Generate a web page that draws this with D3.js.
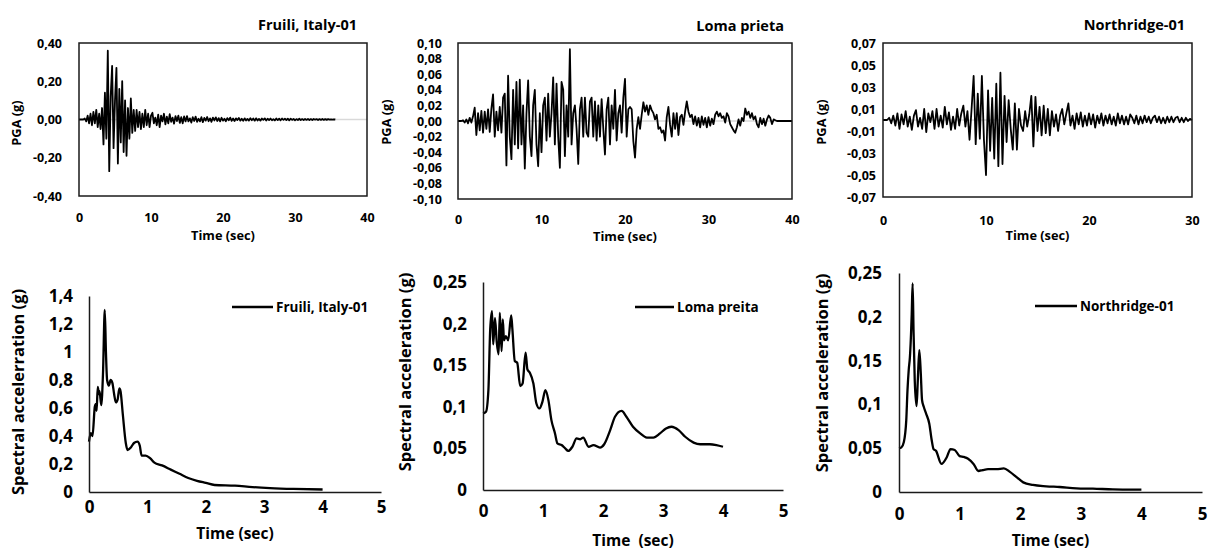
<!DOCTYPE html>
<html>
<head>
<meta charset="utf-8">
<script src="https://cdn.jsdelivr.net/npm/d3@7"></script>
<style>
  body { margin: 0; background: #fff; }
  svg text { font-family: "Open Sans", Lato, sans-serif; font-weight: 700; fill: #000; }
</style>
</head>
<body>
<svg id="chart" width="1216" height="552"></svg>
<script>
// ---- datos: registros de aceleracion (g), paso dt = 0.2 s ----
const dtFruili = 0.2;
const fruiliAcc = [
  0, 0, 0, 0, 0.005, -0.01, 0.02, -0.02, 0.03, -0.03,
  0.04, -0.02, 0.05, -0.04, 0.03, -0.05, 0.06, -0.13, 0.14, -0.10,
  0.36, -0.27, 0.12, 0.28, -0.15, 0.10, 0.27, -0.23, 0.16, -0.12,
  0.20, -0.17, 0.10, -0.19, 0.06, -0.10, 0.11, -0.07, 0.05, -0.06,
  0.05, -0.04, 0.04, -0.05, 0.03, -0.04, 0.05, -0.03, 0.03, -0.04,
  0.02,
  0.035, -0.02, 0.01, -0.03, 0.025, -0.04, 0.02, -0.01, 0.03, -0.025,
  0.015, -0.02, 0.028, -0.012, 0.01, -0.022, 0.018, -0.008, 0.02, -0.018,
  0.012, -0.02, 0.016, -0.01,
  0.018, -0.01, 0.006, -0.016, 0.012, -0.008, 0.015, -0.012, 0.004, -0.01,
  0.012, -0.014, 0.008, -0.006, 0.013, -0.009, 0.006, -0.012, 0.01, -0.005,
  0.011, -0.008, 0.007, -0.01,
  0.009, -0.006, 0.004, -0.009, 0.007, -0.004, 0.01, -0.007, 0.005, -0.008,
  0.006, -0.003, 0.008, -0.006, 0.004, -0.007, 0.006, -0.005, 0.003, -0.006,
  0.007, -0.004, 0.005, -0.006,
  0.006, -0.005, 0.003, -0.006, 0.005, -0.002, 0.006, -0.005, 0.004, -0.003,
  0.005, -0.004, 0.002, -0.005, 0.005, -0.003, 0.004, -0.004, 0.005, -0.002,
  0.004, -0.003, 0.004, -0.004,
  0.004, -0.002, 0.003, -0.004, 0.002, -0.003, 0.004, -0.003, 0.002, -0.003,
  0.003, -0.002, 0.003, -0.003, 0.002, -0.003, 0.003, -0.001, 0.002, -0.003,
  0.002, -0.002, 0.003, -0.002, 0.002, -0.002, 0.002, -0.001, 0.001, -0.001,
  0.001, 0
];

const dtLoma = 0.2;
const lomaAcc = [
  0, 0, 0, 0.001, -0.002, 0.002, -0.003, 0.004, -0.002, 0.006,
  0.017, -0.018, 0.01, -0.012, 0.013, -0.015, 0.012, -0.01, 0.015, -0.014,
  0.016, 0.034, -0.02, 0.012, -0.012, 0.018, -0.015, 0.03, 0.035, -0.057,
  0.058, -0.02, -0.049, 0.04, -0.03, 0.05, -0.035, 0.053, -0.03, 0.02,
  -0.061, 0.01, 0.052, -0.02, -0.045, 0.02, 0.04, -0.03, -0.058, 0.01,
  -0.04, 0.02, 0.03, -0.025, 0.035, -0.02, 0.01, 0.056, -0.03, 0.048,
  -0.02, -0.06, 0.05, 0.04, -0.045, 0.02, -0.02, 0.092, -0.03, 0.01,
  0.02, -0.01, -0.055, 0.015, 0.03, -0.02, 0.03, -0.015, -0.02, 0.025,
  0.03, -0.02, 0.025, -0.025, 0.02, -0.02, 0.028, -0.01, -0.043, 0.015,
  0.03, -0.03, 0.02, -0.01, 0.04, -0.025, 0.01, 0.02, -0.015, 0.03,
  0.054, -0.02, 0.015, 0.018, 0.015, -0.026, -0.047, -0.01, 0.005, -0.01,
  0.008, 0.024, 0.012, 0.02, 0.008, 0.02, 0.014, 0.01, 0.002, 0.008,
  -0.01, -0.008, -0.015, -0.012, -0.025, 0.005, 0.018, -0.005, -0.02, 0.01,
  -0.01, 0.01, -0.018, 0.005, 0.008, -0.005, 0.012, 0.025, 0.012, 0.005,
  0.008, -0.004, 0.006, -0.006, 0.004, -0.008, 0.006, -0.005, 0.004, -0.008,
  0.005, -0.006, 0.003, -0.004, 0.008, 0.012, 0.006, 0.01, 0.004, 0.006,
  -0.002, 0.01, 0.006, -0.004, -0.008, -0.012, -0.015, -0.008, 0.002, -0.006,
  0.004, 0, 0.016, 0.008, 0.012, 0.004, 0.01, 0.002, 0.006, -0.004,
  -0.008, 0.004, -0.004, 0.003, -0.006, 0.002, 0.007, 0.004, -0.004, 0.002,
  0.001, 0, 0, 0, 0, 0, 0, 0, 0, 0,
  0
];

const dtNorth = 0.2;
const northAcc = [
  0, 0, 0, 0.002, -0.003, 0.004, -0.005, 0.006, -0.008, 0.005,
  -0.004, 0.008, -0.006, 0.003, -0.009, 0.004, 0.009, -0.006, 0.002, -0.008,
  0.01, -0.011, 0.006, -0.002, 0.008, -0.008, 0.01, -0.006, 0.004, -0.007,
  0.012, -0.004, 0.007, -0.009, 0.003, -0.008, 0.01, -0.005, 0.006, 0.013,
  -0.006, 0.008, -0.018, 0.01, 0.04, -0.022, 0.024, -0.017, 0.04, -0.018,
  -0.05, 0.027, -0.028, 0.02, -0.035, 0.033, -0.042, 0.043, -0.04, 0.022,
  -0.02, 0.018, -0.008, -0.027, 0.015, -0.027, 0.01, -0.005, -0.01, 0.008,
  -0.006, 0.005, 0.022, -0.024, 0.021, -0.01, 0.012, -0.014, 0.013, -0.012,
  0.01, -0.014, 0.008, -0.006, 0.005, -0.01, 0.004, 0.01, -0.004, 0.006,
  0.015, -0.005, 0.004, -0.008, 0.006, -0.004, 0.007, -0.006, 0.004, -0.005,
  0.006, -0.004, 0.005, -0.007, 0.004, -0.003, 0.006, -0.005, 0.004, -0.003,
  0.005, -0.004, 0.003, -0.005, 0.006, -0.003, 0.004, -0.004, 0.003, -0.004,
  0.005, 0.002, -0.003, 0.004, -0.004, 0.003, -0.003, 0.004, -0.002, 0.003,
  -0.003, 0.002, 0.004, -0.002, 0.003, -0.003, 0.002, -0.003, 0.003, -0.002,
  0.003, -0.002, 0.002, 0.003, -0.002, 0.002, -0.002, 0.002, -0.001, 0.001,
  0
];

// ---- datos: espectros de respuesta (periodo s, Sa g) ----
const fruiliSpT = [0, 0.03, 0.06, 0.1, 0.12, 0.13, 0.15, 0.17, 0.18, 0.21, 0.24, 0.27, 0.29, 0.31, 0.34, 0.37, 0.4, 0.43, 0.46, 0.49, 0.52, 0.54, 0.58, 0.63, 0.66, 0.72, 0.77, 0.83, 0.87, 0.9, 0.97, 1.05, 1.12, 1.25, 1.4, 1.55, 1.7, 1.85, 2.0, 2.15, 2.5, 2.8, 3.1, 3.5, 4.0];
const fruiliSpA = [0.36, 0.42, 0.40, 0.61, 0.63, 0.58, 0.75, 0.70, 0.72, 0.62, 0.85, 1.30, 1.00, 0.80, 0.76, 0.80, 0.78, 0.70, 0.64, 0.66, 0.74, 0.72, 0.55, 0.35, 0.30, 0.32, 0.35, 0.36, 0.33, 0.26, 0.26, 0.24, 0.21, 0.19, 0.16, 0.13, 0.10, 0.08, 0.065, 0.05, 0.045, 0.035, 0.028, 0.022, 0.018];

const lomaSpT = [0, 0.05, 0.09, 0.12, 0.15, 0.17, 0.2, 0.23, 0.26, 0.28, 0.31, 0.33, 0.35, 0.38, 0.42, 0.47, 0.49, 0.53, 0.57, 0.62, 0.66, 0.71, 0.74, 0.78, 0.84, 0.89, 0.94, 0.99, 1.04, 1.09, 1.14, 1.2, 1.24, 1.31, 1.37, 1.42, 1.49, 1.56, 1.62, 1.67, 1.76, 1.84, 1.95, 2.02, 2.12, 2.2, 2.31, 2.39, 2.5, 2.62, 2.73, 2.84, 2.95, 3.05, 3.14, 3.26, 3.37, 3.51, 3.62, 3.78, 3.89, 4.0];
const lomaSpA = [0.092, 0.094, 0.12, 0.193, 0.215, 0.175, 0.207, 0.177, 0.163, 0.213, 0.167, 0.205, 0.18, 0.185, 0.18, 0.21, 0.193, 0.155, 0.153, 0.125, 0.128, 0.165, 0.145, 0.141, 0.128, 0.104, 0.098, 0.106, 0.12, 0.108, 0.084, 0.068, 0.056, 0.054, 0.05, 0.047, 0.052, 0.062, 0.061, 0.063, 0.052, 0.054, 0.051, 0.055, 0.072, 0.088, 0.095, 0.088, 0.076, 0.068, 0.063, 0.063, 0.068, 0.074, 0.076, 0.072, 0.064, 0.057, 0.055, 0.055, 0.054, 0.052];

const northSpT = [0, 0.04, 0.08, 0.12, 0.14, 0.16, 0.18, 0.21, 0.225, 0.24, 0.26, 0.29, 0.31, 0.335, 0.36, 0.38, 0.41, 0.45, 0.5, 0.54, 0.57, 0.61, 0.7, 0.79, 0.85, 0.92, 1.0, 1.07, 1.14, 1.23, 1.31, 1.38, 1.47, 1.61, 1.73, 1.83, 1.94, 2.05, 2.21, 2.43, 2.65, 2.93, 3.2, 3.53, 3.81, 4.0];
const northSpA = [0.05, 0.051, 0.057, 0.082, 0.116, 0.139, 0.154, 0.203, 0.238, 0.184, 0.127, 0.098, 0.127, 0.162, 0.135, 0.105, 0.097, 0.089, 0.078, 0.059, 0.049, 0.047, 0.032, 0.04, 0.049, 0.048, 0.041, 0.04, 0.038, 0.032, 0.024, 0.025, 0.026, 0.026, 0.027, 0.023, 0.017, 0.011, 0.008, 0.0065, 0.0057, 0.0042, 0.0038, 0.003, 0.0027, 0.0027];

// ---- ticks ----
const ticksFruiliY = [-0.4, -0.2, 0, 0.2, 0.4];
const ticksLomaY = [-0.1, -0.08, -0.06, -0.04, -0.02, 0, 0.02, 0.04, 0.06, 0.08, 0.1];
const ticksNorthY = [-0.07, -0.05, -0.03, -0.01, 0.01, 0.03, 0.05, 0.07];
const ticksTime40 = [0, 10, 20, 30, 40];
const ticksTime30 = [0, 10, 20, 30];
const ticksSpX = [0, 1, 2, 3, 4, 5];
const ticksFruiliSp = [0, 0.2, 0.4, 0.6, 0.8, 1, 1.2, 1.4];
const ticksSmallSp = [0, 0.05, 0.1, 0.15, 0.2, 0.25];

// formato con coma decimal
const locale = d3.formatLocale({decimal: ",", thousands: ".", grouping: [3], currency: ["", ""], minus: "-"});
const fmt2 = locale.format(".2f");
const fmtG = locale.format("~g");

const svg = d3.select("#chart");

function timeHistory(o) {
    let x = d3.scaleLinear().domain(o.xDomain).range([o.x0, o.x1]);
    let y = d3.scaleLinear().domain(o.yDomain).range([o.y1, o.y0]);
    let g = svg.append("g");

    // eje cero gris
    g.append("line")
        .attr("x1", o.x0).attr("x2", o.x1)
        .attr("y1", y(0)).attr("y2", y(0))
        .attr("stroke", "#d9d9d9").attr("stroke-width", 1.5);

    g.append("path")
        .datum(o.acc)
        .attr("fill", "none")
        .attr("stroke", "#000")
        .attr("stroke-width", 1.8)
        .attr("stroke-linejoin", "round")
        .attr("d", d3.line().x(function(d, i) { return x(i * o.dt); }).y(function(d) { return y(d); }));

    g.append("rect")
        .attr("x", o.x0).attr("y", o.y0)
        .attr("width", o.x1 - o.x0).attr("height", o.y1 - o.y0)
        .attr("fill", "none").attr("stroke", "#1a1a1a").attr("stroke-width", 1.5);

    g.append("g")
        .attr("transform", "translate(" + o.x0 + ",0)")
        .call(d3.axisLeft(y).tickValues(o.yTicks).tickSize(0).tickPadding(o.yPad).tickFormat(fmt2))
        .call(function(a) { a.select(".domain").remove(); })
        .selectAll("text").style("font-size", "12.5px");

    g.append("g")
        .attr("transform", "translate(0," + o.y1 + ")")
        .call(d3.axisBottom(x).tickValues(o.xTicks).tickSize(0).tickPadding(o.xPad).tickFormat(d3.format("d")))
        .call(function(a) { a.select(".domain").remove(); })
        .selectAll("text").style("font-size", "12.5px");

    g.append("text")
        .attr("x", (o.x0 + o.x1) / 2).attr("y", o.xLabelY)
        .attr("text-anchor", "middle").style("font-size", "12.8px")
        .text("Time (sec)");

    g.append("text")
        .attr("transform", "translate(" + o.yLabelX + "," + o.yLabelC + ") rotate(-90)")
        .attr("text-anchor", "middle").attr("dy", "0.35em").style("font-size", "12.8px")
        .text("PGA (g)");

    g.append("text")
        .attr("x", o.titleX).attr("y", o.titleY)
        .attr("text-anchor", "end").style("font-size", "14.5px")
        .text(o.title);
}

function spectrum(o) {
    let x = d3.scaleLinear().domain([0, 5]).range([o.x0, o.x1]);
    let y = d3.scaleLinear().domain(o.yDomain).range([o.y1, o.y0]);
    let g = svg.append("g");

    g.append("path")
        .datum(d3.zip(o.T, o.A))
        .attr("fill", "none")
        .attr("stroke", "#000")
        .attr("stroke-width", 2.3)
        .attr("stroke-linejoin", "round")
        .attr("d", d3.line().curve(d3.curveMonotoneX)
            .x(function(d) { return x(d[0]); }).y(function(d) { return y(d[1]); }));

    g.append("g")
        .attr("transform", "translate(" + o.x0 + ",0)")
        .call(d3.axisLeft(y).tickValues(o.yTicks).tickSize(0).tickPadding(o.yPad).tickFormat(fmtG))
        .call(function(a) { a.select(".domain").attr("stroke", "#1a1a1a").attr("stroke-width", 1.5); })
        .selectAll("text").style("font-size", "17px");

    g.append("g")
        .attr("transform", "translate(0," + o.y1 + ")")
        .call(d3.axisBottom(x).tickValues(ticksSpX).tickSize(0).tickPadding(o.xPad).tickFormat(d3.format("d")))
        .call(function(a) { a.select(".domain").attr("stroke", "#1a1a1a").attr("stroke-width", 1.5); })
        .selectAll("text").style("font-size", "17px");

    g.append("text")
        .attr("x", (o.x0 + o.x1) / 2).attr("y", o.xLabelY)
        .attr("text-anchor", "middle").style("font-size", "15.5px")
        .attr("xml:space", "preserve")
        .text(o.xLabel);

    g.append("text")
        .attr("transform", "translate(" + o.yLabelX + "," + o.yLabelC + ") rotate(-90)")
        .attr("text-anchor", "middle").attr("dy", "0.35em").style("font-size", "16.5px")
        .text(o.yLabel);

    // leyenda
    g.append("line")
        .attr("x1", o.legX0).attr("x2", o.legX1)
        .attr("y1", o.legY).attr("y2", o.legY)
        .attr("stroke", "#000").attr("stroke-width", 2.3);
    g.append("text")
        .attr("x", o.legX1 + 3).attr("y", o.legY)
        .attr("dy", "0.35em").style("font-size", "13.5px")
        .text(o.name);
}

timeHistory({acc: fruiliAcc, dt: dtFruili, xDomain: [0, 40], yDomain: [-0.4, 0.4],
    x0: 79, x1: 367, y0: 43, y1: 196, yTicks: ticksFruiliY, xTicks: ticksTime40,
    yPad: 17, xPad: 17, xLabelY: 240, yLabelX: 17, yLabelC: 123,
    title: "Fruili, Italy-01", titleX: 357, titleY: 30});
timeHistory({acc: lomaAcc, dt: dtLoma, xDomain: [0, 40], yDomain: [-0.1, 0.1],
    x0: 458, x1: 792, y0: 43, y1: 199, yTicks: ticksLomaY, xTicks: ticksTime40,
    yPad: 16, xPad: 16, xLabelY: 241, yLabelX: 387, yLabelC: 122,
    title: "Loma prieta", titleX: 784, titleY: 31});
timeHistory({acc: northAcc, dt: dtNorth, xDomain: [0, 30], yDomain: [-0.07, 0.07],
    x0: 883, x1: 1192, y0: 43, y1: 197, yTicks: ticksNorthY, xTicks: ticksTime30,
    yPad: 7, xPad: 19, xLabelY: 240, yLabelX: 822, yLabelC: 122,
    title: "Northridge-01", titleX: 1185, titleY: 30});

spectrum({T: fruiliSpT, A: fruiliSpA, name: "Fruili, Italy-01", yDomain: [0, 1.4], yTicks: ticksFruiliSp,
    x0: 89, x1: 381, y0: 296, y1: 492, yPad: 16, xPad: 9, xLabel: "Time (sec)", xLabelY: 539,
    yLabel: "Spectral accelerration (g)", yLabelX: 18, yLabelC: 392, legX0: 232, legX1: 273, legY: 307});
spectrum({T: lomaSpT, A: lomaSpA, name: "Loma preita", yDomain: [0, 0.25], yTicks: ticksSmallSp,
    x0: 483, x1: 783, y0: 282, y1: 490, yPad: 16, xPad: 15, xLabel: "Time  (sec)", xLabelY: 546,
    yLabel: "Spectral acceleration (g)", yLabelX: 405, yLabelC: 372, legX0: 635, legX1: 674, legY: 307});
spectrum({T: northSpT, A: northSpA, name: "Northridge-01", yDomain: [0, 0.25], yTicks: ticksSmallSp,
    x0: 899, x1: 1202, y0: 273, y1: 492, yPad: 17, xPad: 16, xLabel: "Time (sec)", xLabelY: 546,
    yLabel: "Spectral acceleration (g)", yLabelX: 822, yLabelC: 373, legX0: 1035, legX1: 1077, legY: 306});
</script>
</body>
</html>
